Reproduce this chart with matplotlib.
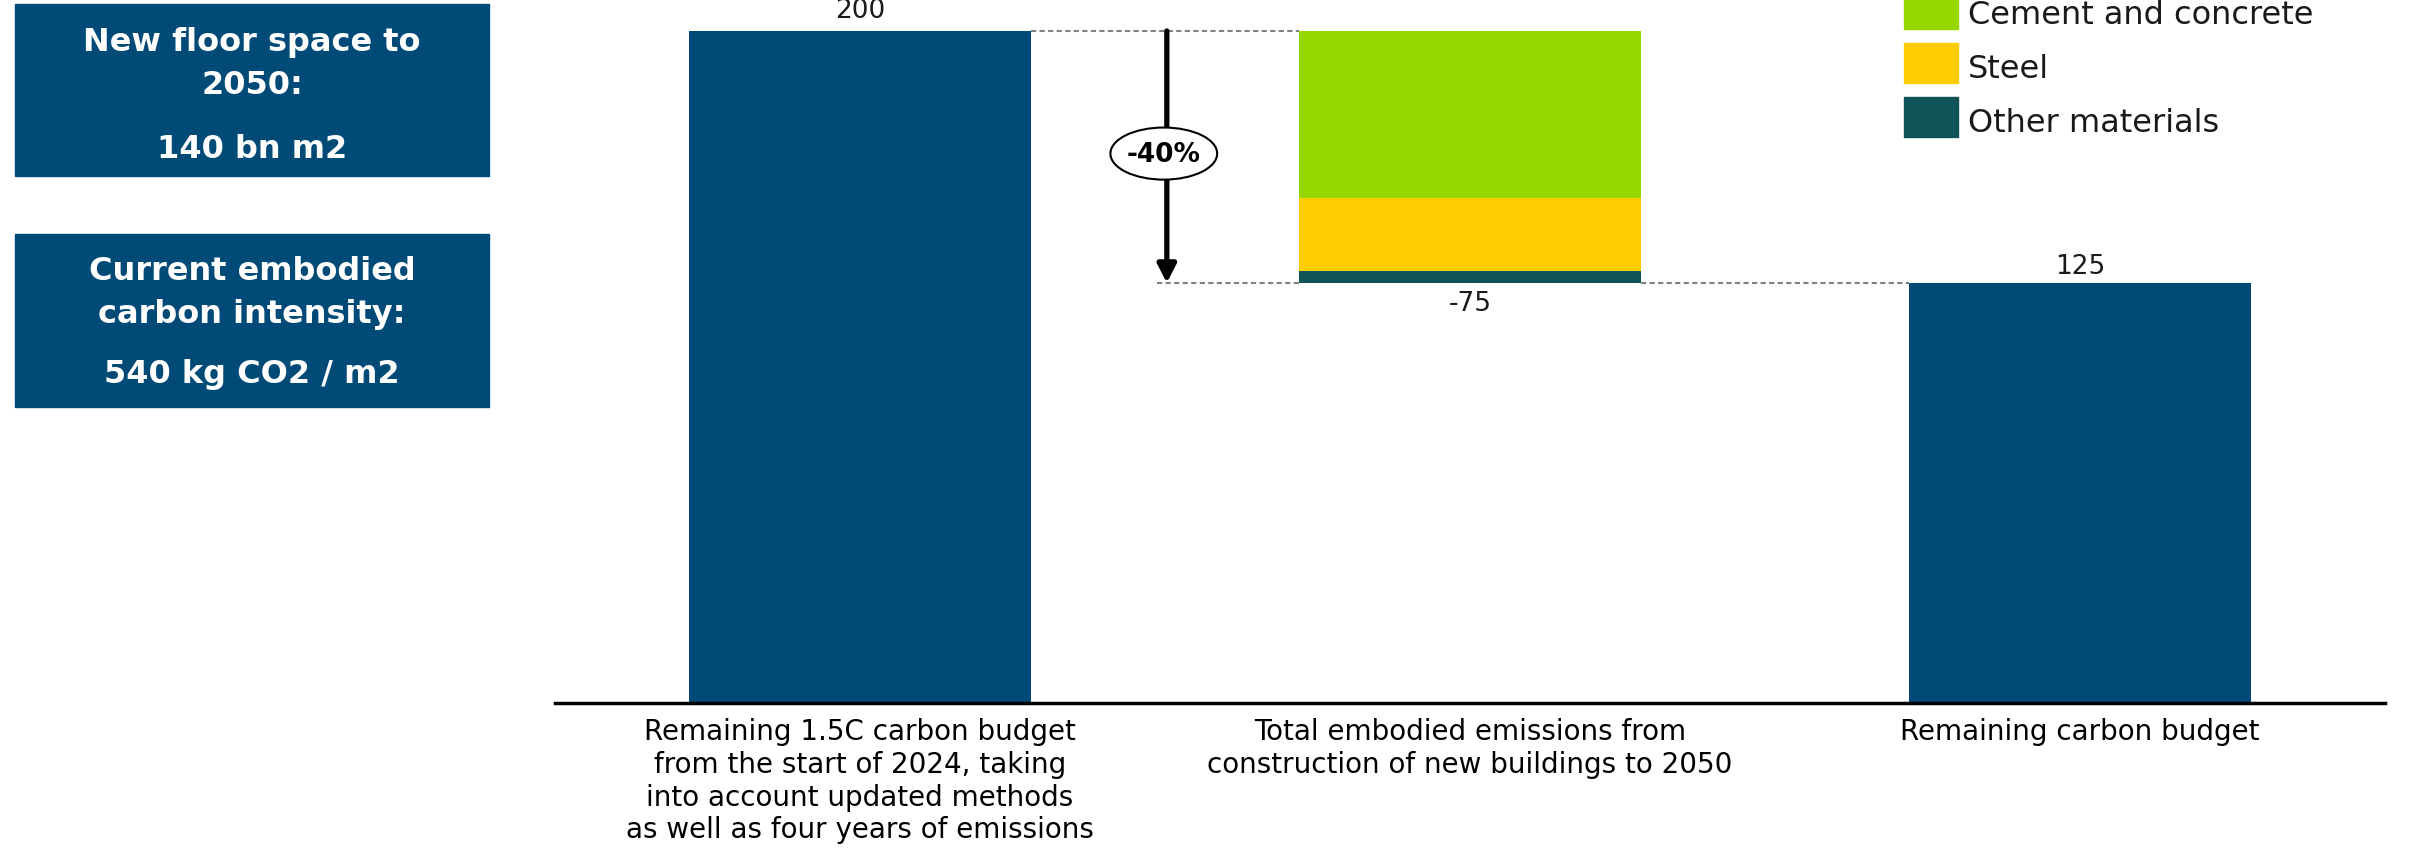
import matplotlib.pyplot as plt
from matplotlib.patches import Rectangle, Ellipse

# waterfall: starting budget, embodied emissions by material, what is left
categories = [
    "Remaining 1.5C carbon budget\nfrom the start of 2024, taking\ninto account updated methods\nas well as four years of emissions",
    "Total embodied emissions from\nconstruction of new buildings to 2050",
    "Remaining carbon budget",
]
start_budget = 200
materials = ["Cement and concrete", "Steel", "Other materials"]
material_values = [49.8, 21.7, 3.5]
material_colors = ["#97D700", "#FFCC00", "#0F5257"]
change_label = "-40%"

info_boxes = [
    ("New floor space to\n2050:", "140 bn m2"),
    ("Current embodied\ncarbon intensity:", "540 kg CO2 / m2"),
]

navy = "#004A77"
plt.rcParams["font.family"] = "DejaVu Sans"

embodied = sum(material_values)
remaining = start_budget - embodied

fig = plt.figure(figsize=(24.13, 8.53), dpi=100)
ax = fig.add_axes([555 / 2413, 149 / 853, 1830 / 2413, 704 / 853])

w = 0.56
ax.bar(0, start_budget, width=w, color=navy)
ax.bar(2, remaining, width=w, color=navy)

# stack the materials downward from the top of the first bar
top = start_budget
for name, val, col in zip(materials, material_values, material_colors):
    ax.bar(1, val, bottom=top - val, width=w, color=col)
    top -= val

ax.set_xlim(-0.5, 2.5)
ax.set_ylim(0, 209.5)

# connectors
dash = dict(color="#808080", lw=1.5, ls=(0, (2.5, 1.6)))
ax.plot([w / 2, 1 - w / 2], [start_budget, start_budget], **dash)
ax.plot([0.487, 1 - w / 2], [remaining, remaining], **dash)
ax.plot([1 + w / 2, 2 - w / 2], [remaining, remaining], **dash)

# value labels
lbl = dict(ha="center", fontsize=19, color="#1a1a1a")
ax.annotate(f"{start_budget:g}", (0, start_budget), xytext=(0, 6),
            textcoords="offset points", va="bottom", **lbl, annotation_clip=False)
ax.annotate(f"{round(remaining):g}", (2, remaining), xytext=(0, 3),
            textcoords="offset points", va="bottom", **lbl)
ax.annotate(f"{-round(embodied):g}", (1, remaining), xytext=(0, -5),
            textcoords="offset points", va="top", **lbl)

# reduction arrow with the percentage badge
ax.annotate("", xy=(0.503, remaining), xytext=(0.503, start_budget),
            arrowprops=dict(arrowstyle="-|>,head_length=0.55,head_width=0.28",
                            lw=3.8, color="black", mutation_scale=20,
                            shrinkA=0, shrinkB=0))
ax.add_patch(Ellipse((0.498, 163.5), 0.175, 15.5, facecolor="white",
                     edgecolor="black", lw=1.5, zorder=5))
ax.text(0.498, 163.5, change_label, ha="center", va="center", fontsize=19,
        fontweight="bold", zorder=6)

ax.set_xticks([0, 1, 2], categories, fontsize=20, linespacing=1.22)
ax.tick_params(axis="x", length=0, pad=10)
ax.set_yticks([])
for s in ["top", "left", "right"]:
    ax.spines[s].set_visible(False)
ax.spines["bottom"].set_linewidth(2.5)

# legend drawn by hand so the first row can run off the top edge
for i, (name, col) in enumerate(zip(materials, material_colors)):
    yc = 10 + 54 * i
    fig.patches.append(Rectangle((1904 / 2413, 1 - (yc + 20) / 853), 54 / 2413, 40 / 853,
                                 transform=fig.transFigure, color=col))
    fig.text(1968 / 2413, 1 - (yc + 5) / 853, name, fontsize=23, va="center",
             color="#1a1a1a")

# info panels on the left
box_y = [(5, 177), (235, 408)]
line_y = [(64, 149), (293, 375)]
for (head, value), (y0, y1), (hy, vy) in zip(info_boxes, box_y, line_y):
    fig.patches.append(Rectangle((15 / 2413, 1 - y1 / 853), 474 / 2413, (y1 - y0) / 853,
                                 transform=fig.transFigure, color=navy))
    fig.text(252 / 2413, 1 - hy / 853, head, ha="center", va="center", color="white",
             fontsize=23, fontweight="bold", linespacing=1.5)
    fig.text(252 / 2413, 1 - vy / 853, value, ha="center", va="center", color="white",
             fontsize=23, fontweight="bold")

fig.savefig("out.png", dpi=100)
